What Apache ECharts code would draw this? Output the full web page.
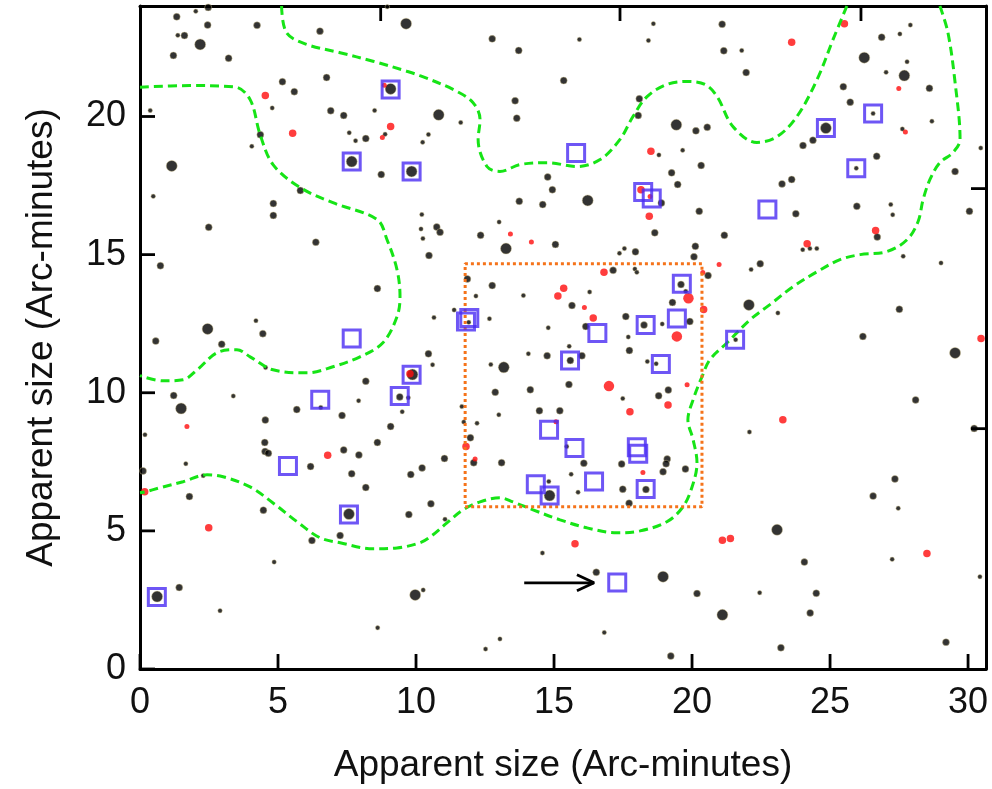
<!DOCTYPE html>
<html>
<head>
<meta charset="utf-8">
<script src="https://cdn.jsdelivr.net/npm/echarts@6/dist/echarts.min.js"></script>
<style>
html,body{margin:0;padding:0;background:#fff;}
#chart{width:992px;height:789px;}
</style>
</head>
<body>
<div id="chart"></div>
<script>
// ---------- DATA ----------
const xTickValues = [0, 5, 10, 15, 20, 25, 30];
const yTickValues = [0, 5, 10, 15, 20];
const topTickValues = [8.72, 17.39, 26.12];   // unlabeled ticks on the top border
const rightTickValues = [8.70, 17.39];        // unlabeled ticks on the right border
const axisTitleX = 'Apparent size (Arc-minutes)';
const axisTitleY = 'Apparent size (Arc-minutes)';

const blackLarge = [[2.18,22.61],[9.64,23.36],[1.15,18.21],[9.08,21.00],[7.67,18.37],[9.84,18.01],[10.82,20.06],[19.43,19.70],[16.22,16.96],[26.24,22.13],[27.69,21.48],[24.85,19.58],[2.45,12.31],[1.49,9.43],[9.87,10.66],[13.26,15.22],[13.18,10.92],[22.06,13.18],[29.53,11.44],[7.57,5.61],[0.62,2.62],[9.97,2.68],[14.84,6.28],[18.95,3.34],[23.08,5.04],[21.10,1.96]];

const blackMedium = [[1.33,23.61],[2.47,23.95],[2.45,23.31],[4.24,23.30],[1.61,22.93],[1.21,22.21],[3.21,22.11],[6.52,23.09],[5.16,21.26],[5.59,20.90],[6.76,21.41],[6.91,20.21],[7.38,20.04],[8.18,19.20],[4.36,19.34],[5.81,17.32],[4.83,16.85],[4.83,16.42],[8.74,17.90],
[12.76,22.81],[13.72,22.39],[15.35,21.30],[13.59,20.57],[13.65,19.94],[18.09,20.64],[18.05,20.04],[20.14,19.48],[20.33,18.23],[19.26,17.96],[19.48,17.54],[14.77,17.81],[14.94,17.35],[13.74,16.93],[14.59,16.81],[18.89,16.87],[20.26,16.57],
[21.09,23.34],[21.15,22.38],[21.96,21.59],[26.87,22.87],[25.48,21.08],[28.60,21.02],[25.73,20.52],[20.55,19.61],[24.38,19.14],[24.02,18.95],[26.69,18.56],[29.53,18.01],[23.61,17.72],[23.26,17.56],[25.97,16.75],[23.76,16.48],[30.05,16.57],
[2.49,15.99],[6.37,15.45],[0.74,14.60],[8.60,13.77],[4.45,12.14],[2.96,11.76],[0.57,11.87],[8.18,10.42],[1.22,9.90],[5.68,9.39],[4.54,9.01],[7.32,9.18],[9.41,9.85],[9.08,8.78],[8.60,8.20],[4.52,8.20],
[10.75,16.00],[10.87,15.81],[12.34,15.70],[15.05,15.37],[10.47,14.97],[18.65,15.79],[17.95,15.10],[20.12,15.30],[20.07,14.92],[17.14,14.43],[11.86,14.12],[12.76,13.88],[15.65,13.16],[17.60,12.76],[16.15,12.40],[19.29,13.27],[19.92,12.58],[18.26,12.45],[19.60,13.92],[17.73,11.53],[16.01,11.34],[15.59,11.17],[14.75,11.34],[10.45,11.41],[15.54,10.30],[14.14,10.11],[12.87,10.02],[18.79,9.89],[19.14,10.10],[14.47,9.35],[15.21,9.35],[11.97,8.37],
[21.17,15.70],[26.71,15.64],[22.47,14.67],[20.58,14.24],[27.51,13.02],[26.19,12.04],[28.10,9.74],[30.22,8.71],
[4.53,7.87],[4.65,7.81],[0.11,7.17],[6.18,7.33],[7.38,7.93],[7.93,7.75],[7.67,7.07],[8.18,6.57],[9.81,7.04],[10.22,7.28],[1.79,6.24],[4.47,5.75],[9.74,5.59],[7.25,4.83],[6.23,4.65],[1.42,2.95],
[11.03,7.62],[12.09,7.47],[13.10,7.47],[16.08,7.45],[17.45,7.42],[19.10,7.60],[19.06,7.43],[18.95,7.14],[19.76,7.24],[17.49,6.51],[18.33,6.50],[17.72,6.00],[10.54,5.98],[16.53,3.50],[20.18,2.73],[19.23,0.47],
[27.35,6.88],[26.56,6.26],[24.07,3.87],[24.50,2.74],[24.28,2.03],[23.22,0.77],[29.20,0.97]];

const blackSmall = [[2.02,23.81],[1.37,22.94],[8.96,23.97],[4.79,20.31],[8.50,20.22],[7.58,19.41],[7.81,19.12],[8.88,19.36],[10.24,19.07],[0.37,20.22],[4.05,18.92],[0.48,17.11],[10.21,16.45],[18.60,23.36],[18.42,22.75],[15.92,22.79],[11.62,19.78],[10.45,19.35],[18.80,18.61],[19.66,18.78],[13.01,16.18],[21.80,22.39],[27.53,22.99],[27.91,23.31],[27.79,21.98],[27.03,21.60],[28.69,19.83],[27.62,19.55],[30.46,18.86],[27.20,16.81],[27.27,16.44],[26.56,20.11],[25.95,18.13],[10.18,15.93],[10.25,15.58],[4.20,12.61],[4.55,10.91],[3.38,9.88],[6.55,9.47],[7.92,9.71],[9.50,9.31],[9.72,9.82],[0.18,8.48],[17.37,15.05],[17.55,15.22],[17.93,14.48],[18.00,14.36],[12.17,13.50],[13.89,13.52],[16.29,13.65],[11.38,13.00],[10.65,12.72],[12.66,12.68],[14.79,12.35],[17.69,12.02],[18.92,12.49],[19.77,13.67],[15.55,11.68],[14.07,11.41],[10.60,11.01],[12.71,11.02],[18.38,11.13],[18.70,11.05],[17.49,9.79],[11.66,9.50],[13.00,9.20],[11.73,8.94],[12.21,8.90],[11.91,12.55],[24.01,15.18],[24.27,15.22],[24.52,15.22],[27.65,14.94],[29.02,14.70],[22.14,14.46],[23.11,12.89],[21.58,11.92],[22.08,8.58],[1.66,7.43],[2.29,7.00],[4.86,3.87],[2.90,2.11],[10.26,2.86],[8.61,1.49],[15.46,8.05],[15.62,7.05],[14.81,6.79],[15.87,6.40],[11.05,5.42],[14.58,4.20],[16.82,1.32],[13.04,1.09],[12.52,0.72],[27.47,5.82],[27.25,3.97],[30.43,3.34],[22.45,2.76]];

const redLarge = [[19.87,13.42],[19.45,12.04],[16.99,10.24]];
const redMedium = [[4.54,20.76],[5.53,19.39],[9.08,19.64],[18.51,18.74],[18.15,17.35],[18.45,16.39],[23.61,22.69],[25.52,23.36],[9.78,10.69],[16.81,14.36],[15.35,13.78],[15.14,13.50],[16.42,12.71],[19.13,9.56],[17.75,9.31],[20.42,13.01],[11.81,8.05],[26.65,15.87],[24.17,15.39],[30.47,11.96],[23.29,9.02],[6.80,7.74],[0.17,6.42],[2.49,5.11],[15.76,4.53],[21.10,4.66],[21.39,4.72],[28.51,4.18]];
const redSmall = [[8.78,19.24],[8.85,21.13],[18.48,17.10],[27.49,21.01],[27.73,19.44],[1.70,8.78],[13.42,15.75],[14.18,15.46],[16.10,13.09],[20.39,14.35],[19.82,10.29],[15.07,8.95],[20.98,14.64],[12.14,7.60],[18.22,7.11]];

const squares = [[9.08,20.98],[7.67,18.37],[9.84,18.01],[15.80,18.68],[18.23,17.27],[18.54,17.03],[26.56,20.11],[24.85,19.58],[25.95,18.13],[22.73,16.63],[7.67,11.96],[6.53,9.75],[9.41,9.88],[9.84,10.65],[19.63,13.95],[11.93,12.71],[11.81,12.58],[16.57,12.16],[18.32,12.45],[19.45,12.69],[15.58,11.17],[18.87,11.04],[14.82,8.66],[15.74,8.00],[18.00,8.03],[18.05,7.79],[21.56,11.92],[5.36,7.35],[7.57,5.59],[0.61,2.61],[14.34,6.69],[14.84,6.28],[16.45,6.79],[18.32,6.52],[17.29,3.13]];

const contourA = [[0,21.06],[1.81,21.12],[3.44,21.07],[3.99,20.61],[4.35,19.35],[4.82,18.26],[5.80,17.43],[6.99,16.88],[8.59,16.27],[8.95,15.54],[9.31,14.46],[9.42,13.48],[9.31,12.75],[8.80,11.81],[7.97,11.30],[6.99,10.94],[6.05,10.72],[4.82,10.83],[3.99,11.30],[3.51,11.56],[2.79,11.45],[2.07,10.83],[1.56,10.47],[0.83,10.43],[0,10.62]];
const contourB = [[5.13,24],[5.31,23.03],[6.04,22.61],[7.25,22.31],[8.44,22.00],[9.66,21.64],[10.14,21.48],[11.34,20.98],[12.06,20.51],[12.32,19.89],[12.25,19.17],[12.57,18.19],[13.04,18.01],[13.77,18.26],[14.75,18.33],[15.83,18.19],[16.67,18.44],[17.39,19.17],[17.86,20.00],[18.37,20.72],[19.09,21.16],[19.82,21.27],[20.47,21.16],[20.91,20.72],[21.48,19.64],[22.35,19.06],[23.08,19.27],[23.80,20.00],[24.53,21.34],[25.11,22.79],[25.61,24]];
const contourC = [[28.98,24],[29.27,23.04],[29.53,21.23],[29.71,19.17],[29.45,18.69],[28.98,18.33],[28.62,17.72],[28.37,16.99],[28.19,16.20],[27.79,15.54],[27.06,15.11],[26.09,15.00],[25.36,14.82],[24.53,14.38],[23.66,13.84],[22.82,13.19],[22.10,12.64],[21.27,11.81],[20.65,11.20],[20.36,10.58],[20.04,9.75],[19.85,9.02],[20.04,8.30],[20.18,7.46],[20.00,6.59],[19.67,5.87],[19.09,5.33],[18.12,5.00],[17.28,4.93],[16.19,5.11],[15.22,5.40],[14.24,5.76],[13.51,6.05],[13.04,6.20],[12.32,6.05],[11.70,5.76],[11.12,5.29],[10.51,4.78],[10.14,4.57],[9.31,4.38],[8.44,4.35],[7.25,4.57],[6.52,4.75],[5.69,5.33],[4.82,6.01],[3.99,6.59],[3.01,6.96],[2.43,7.03],[1.56,6.78],[0.72,6.56],[0.18,6.41],[0,6.38]];

const boxX = [11.78, 20.36];
const boxY = [5.87, 14.67];
const arrowShaft = [[13.92,3.12],[16.45,3.12]];
const arrowHead = [[15.83,3.41],[16.45,3.12],[15.83,2.83]];

// ---------- CHART ----------
const X_MAX = 30.65, Y_MAX = 24;
const FONT = '"Liberation Sans", Arial, Helvetica, sans-serif';
const chart = echarts.init(document.getElementById('chart'), null, {renderer: 'canvas'});

const boxPath = [[boxX[0],boxY[0]],[boxX[1],boxY[0]],[boxX[1],boxY[1]],[boxX[0],boxY[1]],[boxX[0],boxY[0]]];

function dots(name, data, size, color, border, z) {
  return {
    name, type: 'scatter', data, symbol: 'circle', symbolSize: size, z,
    silent: true,
    itemStyle: border ? {color, borderColor: 'rgba(214,200,150,0.55)', borderWidth: 1} : {color}
  };
}
function curve(name, data, color, type, width, z, smooth) {
  return {
    name, type: 'line', data, showSymbol: false, symbol: 'none', smooth: smooth,
    silent: true, z, clip: false,
    lineStyle: {color, width, type}
  };
}
// inward tick marks placed through the axes' own scale (api.coord)
function tickMarks(name, data, dx, dy) {
  return {
    name, type: 'custom', data, z: 9, silent: true, clip: false,
    renderItem: function (params, api) {
      const p = api.coord([api.value(0), api.value(1)]);
      return {
        type: 'line',
        shape: {x1: p[0], y1: p[1], x2: p[0] + dx, y2: p[1] + dy},
        style: {stroke: '#000', lineWidth: 2.8}
      };
    }
  };
}
function mkLine() { return {show: true, onZero: false, lineStyle: {color: '#000', width: 3}}; }

const option = {
  animation: false,
  backgroundColor: '#ffffff',
  grid: {left: 140, right: 6, top: 6, bottom: 120, containLabel: false},
  xAxis: [
    {
      type: 'value', min: 0, max: X_MAX, interval: 5, position: 'bottom',
      axisLine: mkLine(), axisTick: {show: false}, splitLine: {show: false},
      axisLabel: {
        fontSize: 36, color: '#111', margin: 16, fontFamily: FONT,
        formatter: v => (xTickValues.indexOf(v) >= 0 ? String(v) : '')
      },
      name: axisTitleX, nameLocation: 'middle', nameGap: 78,
      nameTextStyle: {fontSize: 37, color: '#111', fontFamily: FONT}
    },
    {
      type: 'value', min: 0, max: X_MAX, position: 'top',
      axisLine: mkLine(), axisTick: {show: false}, splitLine: {show: false}, axisLabel: {show: false}
    }
  ],
  yAxis: [
    {
      type: 'value', min: 0, max: Y_MAX, interval: 5, position: 'left',
      axisLine: mkLine(), axisTick: {show: false}, splitLine: {show: false},
      axisLabel: {
        fontSize: 36, color: '#111', margin: 14, fontFamily: FONT,
        formatter: v => (yTickValues.indexOf(v) >= 0 ? String(v) : '')
      },
      name: axisTitleY, nameLocation: 'middle', nameGap: 80, nameRotate: 90,
      nameTextStyle: {fontSize: 37, color: '#111', fontFamily: FONT}
    },
    {
      type: 'value', min: 0, max: Y_MAX, position: 'right',
      axisLine: mkLine(), axisTick: {show: false}, splitLine: {show: false}, axisLabel: {show: false}
    }
  ],
  series: [
    dots('blackSmall', blackSmall, 4.5, '#000', true, 2),
    dots('blackMedium', blackMedium, 7, '#000', true, 2),
    dots('blackLarge', blackLarge, 11, '#000', true, 2),
    dots('redSmall', redSmall, 5, '#ff0d0d', false, 3),
    dots('redMedium', redMedium, 7.5, '#ff0d0d', false, 3),
    dots('redLarge', redLarge, 10.5, '#ff0d0d', false, 3),
    curve('contourA', contourA, '#16e416', [9, 5], 3, 4, 0.35),
    curve('contourB', contourB, '#16e416', [9, 5], 3, 4, 0.35),
    curve('contourC', contourC, '#16e416', [9, 5], 3, 4, 0.35),
    curve('box', boxPath, '#f5731a', [3, 3], 3, 5, false),
    {
      name: 'squares', type: 'scatter', data: squares, symbol: 'rect', symbolSize: 17, z: 6,
      silent: true,
      itemStyle: {color: 'rgba(255,255,255,0)', borderColor: '#4a2cf2', borderWidth: 3}
    },
    curve('arrowShaft', arrowShaft, '#000', 'solid', 2.8, 7, false),
    curve('arrowHead', arrowHead, '#000', 'solid', 2.8, 7, false),
    tickMarks('bottomTicks', xTickValues.map(v => [v, 0]), 0, -15),
    tickMarks('topTicks', topTickValues.map(v => [v, Y_MAX]), 0, 15),
    tickMarks('leftTicks', yTickValues.map(v => [0, v]), 15, 0),
    tickMarks('rightTicks', rightTickValues.map(v => [X_MAX, v]), -15, 0)
  ]
};
chart.setOption(option);
</script>
</body>
</html>
